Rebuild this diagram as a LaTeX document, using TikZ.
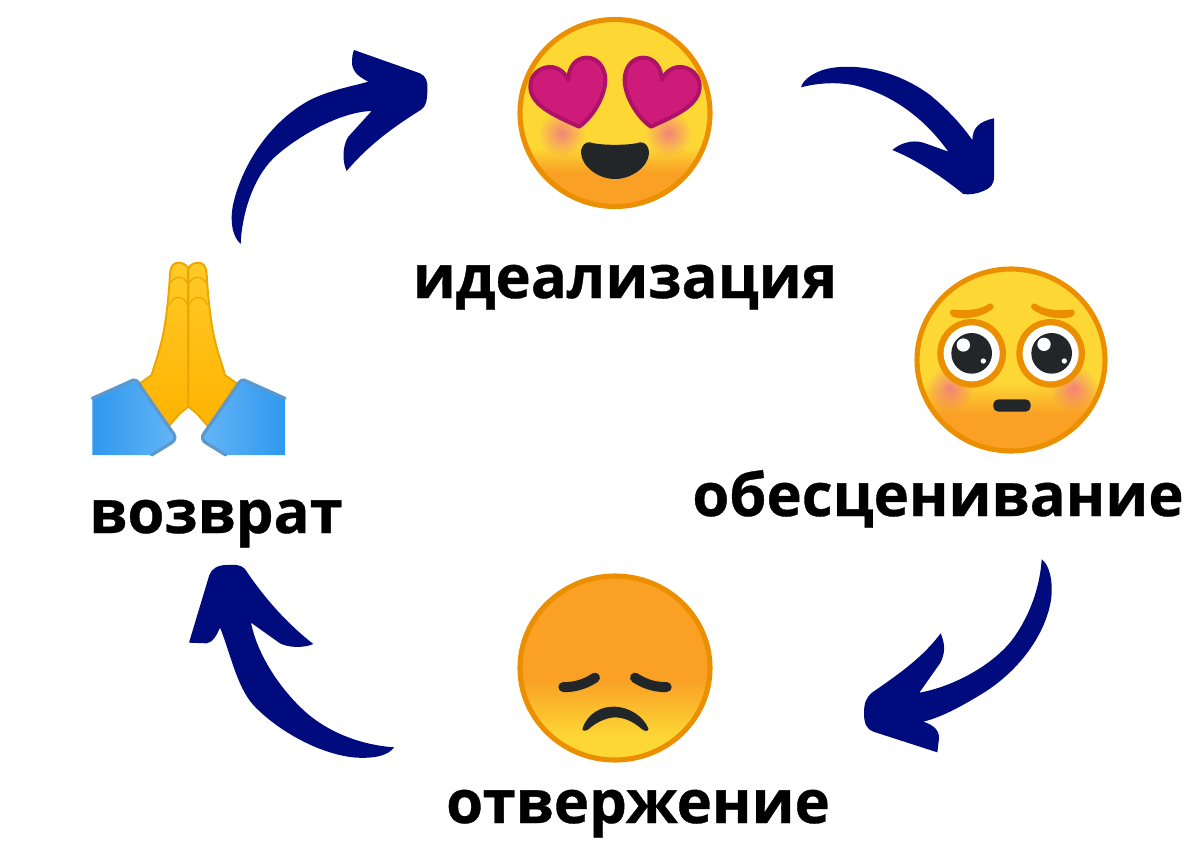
\documentclass[tikz,border=0pt]{standalone}
\usepackage{fontspec}
\setmainfont[BoldFont={Open Sans Bold}]{Open Sans}
\newfontfamily\labelfont[FakeBold=0.6]{Open Sans Bold}
\usetikzlibrary{fadings}
\definecolor{navyarrow}{HTML}{000B7D}
\definecolor{faceyellow}{HTML}{FDD835}
\definecolor{faceorange}{HTML}{F9A025}
\definecolor{facestroke}{HTML}{EB8F00}
\definecolor{heartfill}{HTML}{CE1A79}
\definecolor{heartline}{HTML}{AD1268}
\definecolor{darkfeature}{HTML}{232629}
\definecolor{cheekpink}{HTML}{F2708A}
\definecolor{handtop}{HTML}{FFCA28}
\definecolor{handbot}{HTML}{FFB300}
\definecolor{handline}{HTML}{EDA600}
\definecolor{sleevedark}{HTML}{2F98EE}
\definecolor{sleevelight}{HTML}{64B5F6}
\definecolor{sleeveline}{HTML}{5B98CE}
\pgfdeclareverticalshading{facetopA}{100bp}{color(0bp)=(faceorange); color(34bp)=(faceorange); color(41bp)=(faceyellow); color(100bp)=(faceyellow)}
\pgfdeclareverticalshading{facetopB}{100bp}{color(0bp)=(faceorange); color(35bp)=(faceorange); color(44bp)=(faceyellow); color(100bp)=(faceyellow)}
\pgfdeclareverticalshading{facetopC}{100bp}{color(0bp)=(faceyellow); color(31bp)=(faceyellow); color(47bp)=(faceorange); color(100bp)=(faceorange)}
\tikzfading[name=cheekfade, inner color=transparent!20, outer color=transparent!100]
\tikzset{
  arrowshape/.style={fill=navyarrow},
  facedisc/.style={draw=facestroke, line width=2.9pt},
  darkpart/.style={fill=darkfeature},
  heartpart/.style={fill=heartfill, draw=heartline, line width=2.3pt, line join=round},
  cheek/.style={fill=cheekpink, path fading=cheekfade},
  hand/.style={top color=handtop, bottom color=handbot, draw=handline, line width=1.1pt, line join=round},
  crease/.style={draw=handline, line width=1.1pt},
  sleeveedge/.style={draw=sleeveline, line width=1.8pt, line join=round, line cap=round},
  caption/.style={anchor=base, inner sep=0pt, font=\labelfont\fontsize{34}{34}\selectfont, text=black},
}
\newcommand{\heartshape}{(237,290) .. controls (160,255) and (92,225) .. (91,170) .. controls (90,135) and (120,111) .. (150,111) .. controls (175,111) and (195,128) .. (205,150) .. controls (205,115) and (225,83) .. (260,83) .. controls (295,83) and (316,115) .. (316,150) .. controls (316,200) and (275,265) .. (237,290) -- cycle}
\newcommand{\lefthand}{(325,55) .. controls (318,42) and (305,38) .. (295,38) .. controls (280,38) and (272,50) .. (270,70) .. controls (268,110) and (262,190) .. (250,250) .. controls (240,300) and (228,330) .. (215,375) -- (180,400) -- (265,530) -- (300,490) -- (325,470) -- cycle}
\newcommand{\leftsleeve}{(37,445) -- (160,390) .. controls (172,390) and (178,400) .. (182,410) -- (280,550) .. controls (288,560) and (285,572) .. (275,578) -- (215,615) -- (37,615) -- cycle}
\newcommand{\sleeveborder}{(37,445) -- (160,390) .. controls (172,390) and (178,400) .. (182,410) -- (280,550) .. controls (288,560) and (285,572) .. (275,578) -- (215,615)}
\begin{document}
\begin{tikzpicture}[x=0.02cm,y=-0.02cm]
\useasboundingbox (0,0) rectangle (1200,852);
\fill[white] (0,0) rectangle (1200,852);

% arrows
\begin{scope}[shift={(220,40)},scale=1/3]
\fill[arrowshape] (62,612) .. controls (38,590) and (30,550) .. (38,500) .. controls (60,390) and (140,250) .. (270,180) .. controls (330,150) and (400,138) .. (445,125)
 .. controls (415,110) and (398,95) .. (396,70) .. controls (396,50) and (398,40) .. (402,30)
 -- (600,100) .. controls (618,108) and (624,125) .. (622,150) .. controls (622,180) and (618,198) .. (605,208)
 .. controls (530,255) and (450,310) .. (380,393)
 .. controls (368,370) and (365,320) .. (385,290) -- (455,213)
 .. controls (360,215) and (230,290) .. (160,355) .. controls (95,420) and (65,530) .. (62,612) -- cycle;
\end{scope}
\begin{scope}[shift={(790,60)},scale=1/3]
\fill[arrowshape] (33,82) .. controls (40,55) and (80,30) .. (130,23) .. controls (230,10) and (340,45) .. (420,105) .. controls (475,150) and (515,195) .. (547,240)
 .. controls (548,205) and (565,185) .. (612,175)
 -- (612,350) .. controls (612,375) and (600,385) .. (580,393) .. controls (560,402) and (535,405) .. (520,402)
 .. controls (450,345) and (380,300) .. (307,270)
 .. controls (330,250) and (365,238) .. (400,248) -- (475,275)
 .. controls (400,170) and (300,100) .. (190,75) .. controls (130,65) and (80,70) .. (33,82) -- cycle;
\end{scope}
\begin{scope}[shift={(850,550)},scale=1/3]
\fill[arrowshape] (575,28) .. controls (600,45) and (610,100) .. (603,150) .. controls (585,260) and (500,370) .. (390,435) .. controls (340,465) and (280,500) .. (220,515)
 .. controls (250,525) and (268,540) .. (267,565) -- (262,607)
 -- (70,545) .. controls (50,538) and (42,520) .. (42,490) .. controls (42,460) and (48,440) .. (70,425)
 .. controls (150,370) and (220,320) .. (272,250)
 .. controls (285,280) and (287,310) .. (270,340) -- (208,428)
 .. controls (310,410) and (430,345) .. (490,265) .. controls (540,195) and (570,110) .. (575,28) -- cycle;
\end{scope}
\begin{scope}[shift={(180,555)},scale=1/3]
\fill[arrowshape] (643,577) .. controls (620,605) and (580,610) .. (530,608) .. controls (420,600) and (290,525) .. (220,450) .. controls (170,395) and (150,290) .. (120,218)
 .. controls (110,240) and (100,262) .. (80,265) -- (27,263)
 -- (88,60) .. controls (95,40) and (115,30) .. (140,30) .. controls (165,28) and (185,30) .. (195,42)
 .. controls (250,125) and (320,205) .. (400,267)
 .. controls (370,280) and (325,278) .. (300,265) -- (213,203)
 .. controls (230,290) and (290,390) .. (370,465) .. controls (440,530) and (540,570) .. (643,577) -- cycle;
\end{scope}

% face 1: hearts
\path[shading=facetopA, facedisc] (615,113) ellipse [x radius=95, y radius=93.5];
\begin{scope}[shift={(500,30)},scale=1/3]
\fill[cheek] (185,310) circle (70);
\fill[cheek] (505,310) circle (70);
\path[heartpart] \heartshape;
\begin{scope}[shift={(690,0)},xscale=-1]
\path[heartpart] \heartshape;
\end{scope}
\fill[darkpart] (243,368) .. controls (243,345) and (258,335) .. (270,337) .. controls (300,347) and (390,347) .. (420,337) .. controls (435,335) and (448,350) .. (447,370) .. controls (445,410) and (395,447) .. (345,447) .. controls (295,447) and (245,410) .. (243,368) -- cycle;
\end{scope}

% face 2: pleading
\path[shading=facetopB, facedisc] (1011,360) ellipse [x radius=94, y radius=91];
\begin{scope}[shift={(900,260)},scale=1/3]
\fill[cheek] (150,385) circle (70);
\fill[cheek] (520,385) circle (70);
\fill[facestroke] (150,155) .. controls (150,148) and (158,148) .. (165,149) .. controls (200,153) and (240,150) .. (268,131) .. controls (278,128) and (285,140) .. (278,147) .. controls (245,172) and (195,180) .. (165,172) .. controls (155,170) and (150,165) .. (150,155) -- cycle;
\begin{scope}[shift={(666,0)},xscale=-1]
\fill[facestroke] (142,155) .. controls (142,148) and (150,148) .. (157,149) .. controls (192,153) and (232,150) .. (260,131) .. controls (270,128) and (277,140) .. (270,147) .. controls (237,172) and (187,180) .. (157,172) .. controls (147,170) and (142,165) .. (142,155) -- cycle;
\end{scope}
\fill[facestroke] (215,280) circle (103);
\fill[facestroke] (452,280) circle (103);
\fill[white] (215,280) circle (84);
\fill[white] (452,280) circle (84);
\fill[darkfeature] (215,280) circle (61);
\fill[darkfeature] (455,280) circle (61);
\fill[white] (190,255) circle (20);
\fill[white] (250,303) circle (8);
\fill[white] (432,253) circle (20);
\fill[white] (493,303) circle (8);
\fill[darkpart, rounded corners=0.1cm] (280,418) rectangle (392,455);
\end{scope}

% face 3: disappointed
\path[shading=facetopC, facedisc] (615,668) ellipse [x radius=95, y radius=92];
\begin{scope}[shift={(500,565)},scale=1/3]
\draw[darkfeature, line width=5.7pt, line cap=round] (190,366) .. controls (225,368) and (260,355) .. (285,338);
\draw[darkfeature, line width=5.7pt, line cap=round] (405,338) .. controls (430,355) and (465,368) .. (500,366);
\fill[darkpart] (248,490) .. controls (262,445) and (305,423) .. (345,425) .. controls (390,427) and (430,455) .. (445,490) .. controls (447,500) and (435,500) .. (425,492) .. controls (400,470) and (375,458) .. (345,457) .. controls (315,458) and (285,475) .. (265,493) .. controls (255,500) and (245,498) .. (248,490) -- cycle;
\end{scope}

% praying hands
\begin{scope}[shift={(80,250)},scale=1/3]
\path[hand] \lefthand;
\begin{scope}[shift={(650,0)},xscale=-1]
\path[hand] \lefthand;
\end{scope}
\draw[crease] (325,55) -- (325,470);
\draw[crease, line width=.7pt] (272,100) .. controls (280,78) and (312,75) .. (323,100);
\draw[crease, line width=.7pt] (378,100) .. controls (370,78) and (338,75) .. (327,100);
\draw[crease, line width=.7pt] (268,165) .. controls (278,135) and (312,135) .. (323,165);
\draw[crease, line width=.7pt] (382,165) .. controls (372,135) and (338,135) .. (327,165);
\shade[left color=sleevedark, right color=sleevelight] \leftsleeve;
\draw[sleeveedge] \sleeveborder;
\begin{scope}[shift={(652,0)},xscale=-1]
\shade[left color=sleevelight, right color=sleevedark] \leftsleeve;
\draw[sleeveedge] \sleeveborder;
\end{scope}
\end{scope}

% labels
\node[caption] (ideal) at (625,298) {идеализация};
\node[caption] (deval) at (938,516) {обесценивание};
\node[caption] (retur) at (216,533) {возврат};
\node[caption] (rejec) at (638,823) {отвержение};
\end{tikzpicture}
\end{document}
